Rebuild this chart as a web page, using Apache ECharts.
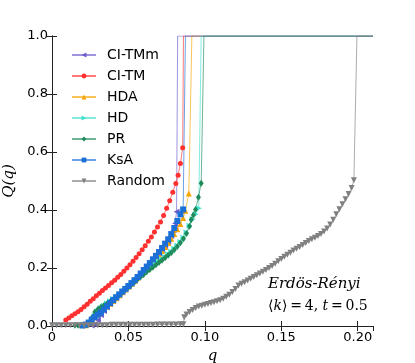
<!DOCTYPE html>
<html>
<head>
<meta charset="utf-8">
<script src="https://cdn.jsdelivr.net/npm/echarts@6/dist/echarts.min.js"></script>
<style>
  html, body { margin: 0; padding: 0; background: #fff; }
</style>
</head>
<body>
<div id="chart" style="width: 415px; height: 363px;"></div>
<script>
// 坐标轴刻度
var xTicks = [0, 0.05, 0.10, 0.15, 0.20];
var yTicks = [0, 0.2, 0.4, 0.6, 0.8, 1.0];

// 各曲线数据 [q, Q(q)]
var ciTMm = [
  [0.026, 0.002], [0.028, 0.005], [0.030, 0.020], [0.032, 0.038], [0.034, 0.052],
  [0.036, 0.064], [0.038, 0.075], [0.040, 0.086], [0.042, 0.096], [0.044, 0.106],
  [0.046, 0.116], [0.048, 0.126], [0.050, 0.136], [0.052, 0.146], [0.054, 0.156],
  [0.056, 0.167], [0.058, 0.178], [0.060, 0.189], [0.062, 0.200], [0.064, 0.212],
  [0.066, 0.224], [0.068, 0.237], [0.070, 0.250], [0.072, 0.263], [0.074, 0.276],
  [0.076, 0.290], [0.078, 0.310], [0.0795, 0.330], [0.0805, 0.354], [0.0815, 0.394],
  [0.0822, 1.0], [0.21, 1.0]
];
var ciTM = [
  [0.009, 0.021], [0.011, 0.028], [0.013, 0.035], [0.015, 0.042], [0.017, 0.049],
  [0.019, 0.057], [0.021, 0.066], [0.023, 0.075], [0.025, 0.085], [0.027, 0.094],
  [0.029, 0.104], [0.031, 0.113], [0.033, 0.122], [0.035, 0.131], [0.037, 0.140],
  [0.039, 0.149], [0.041, 0.158], [0.043, 0.168], [0.045, 0.178], [0.047, 0.189],
  [0.049, 0.200], [0.051, 0.211], [0.053, 0.223], [0.055, 0.236], [0.057, 0.249],
  [0.059, 0.263], [0.061, 0.277], [0.063, 0.292], [0.065, 0.307], [0.067, 0.324],
  [0.069, 0.341], [0.071, 0.359], [0.073, 0.381], [0.075, 0.406], [0.077, 0.432],
  [0.079, 0.461], [0.081, 0.491], [0.0825, 0.520], [0.084, 0.560], [0.0855, 0.615],
  [0.086, 1.0], [0.21, 1.0]
];
var hda = [
  [0.022, 0.003], [0.024, 0.010], [0.026, 0.019], [0.028, 0.030], [0.030, 0.040],
  [0.032, 0.050], [0.034, 0.059], [0.036, 0.068], [0.038, 0.077], [0.040, 0.086],
  [0.042, 0.096], [0.044, 0.106], [0.046, 0.116], [0.048, 0.126], [0.050, 0.136],
  [0.052, 0.146], [0.054, 0.156], [0.056, 0.166], [0.058, 0.177], [0.060, 0.188],
  [0.062, 0.199], [0.064, 0.210], [0.066, 0.222], [0.068, 0.234], [0.070, 0.246],
  [0.072, 0.259], [0.074, 0.272], [0.076, 0.286], [0.078, 0.301], [0.080, 0.317],
  [0.082, 0.334], [0.084, 0.352], [0.0858, 0.372], [0.0872, 0.397], [0.0895, 0.457],
  [0.0915, 1.0], [0.21, 1.0]
];
var hd = [
  [0.022, 0.002], [0.024, 0.005], [0.026, 0.018], [0.028, 0.035], [0.030, 0.050],
  [0.032, 0.062], [0.034, 0.070], [0.036, 0.078], [0.038, 0.085], [0.040, 0.093],
  [0.042, 0.101], [0.044, 0.109], [0.046, 0.118], [0.048, 0.127], [0.050, 0.136],
  [0.052, 0.145], [0.054, 0.154], [0.056, 0.163], [0.058, 0.172], [0.060, 0.180],
  [0.062, 0.189], [0.064, 0.198], [0.066, 0.206], [0.068, 0.214], [0.070, 0.222],
  [0.072, 0.230], [0.074, 0.238], [0.076, 0.247], [0.078, 0.256], [0.080, 0.266],
  [0.082, 0.277], [0.084, 0.290], [0.086, 0.304], [0.088, 0.322], [0.090, 0.346],
  [0.092, 0.368], [0.094, 0.385], [0.096, 0.406], [0.0976, 1.0], [0.21, 1.0]
];
var pr = [
  [0.015, 0.003], [0.017, 0.003], [0.019, 0.003], [0.021, 0.003], [0.023, 0.004],
  [0.025, 0.012], [0.026, 0.028], [0.028, 0.048], [0.030, 0.058], [0.032, 0.065],
  [0.034, 0.071], [0.036, 0.077], [0.038, 0.084], [0.040, 0.091], [0.042, 0.099],
  [0.044, 0.107], [0.046, 0.116], [0.048, 0.125], [0.050, 0.134], [0.052, 0.143],
  [0.054, 0.152], [0.056, 0.161], [0.058, 0.170], [0.060, 0.178], [0.062, 0.187],
  [0.064, 0.195], [0.066, 0.203], [0.068, 0.211], [0.070, 0.219], [0.072, 0.227],
  [0.074, 0.235], [0.076, 0.244], [0.078, 0.253], [0.080, 0.263], [0.082, 0.274],
  [0.084, 0.287], [0.086, 0.301], [0.088, 0.319], [0.090, 0.344], [0.0911, 0.366],
  [0.0925, 0.383], [0.0939, 0.402], [0.0958, 0.444], [0.0976, 0.492], [0.0994, 1.0],
  [0.21, 1.0]
];
var ksa = [
  [0.020, 0.002], [0.022, 0.005], [0.024, 0.012], [0.026, 0.022], [0.028, 0.031],
  [0.030, 0.039], [0.032, 0.047], [0.034, 0.057], [0.036, 0.068], [0.038, 0.079],
  [0.040, 0.089], [0.042, 0.099], [0.044, 0.109], [0.046, 0.119], [0.048, 0.128],
  [0.050, 0.138], [0.052, 0.148], [0.054, 0.158], [0.056, 0.169], [0.058, 0.181],
  [0.060, 0.193], [0.062, 0.205], [0.064, 0.217], [0.066, 0.230], [0.068, 0.242],
  [0.070, 0.255], [0.072, 0.269], [0.074, 0.284], [0.076, 0.299], [0.078, 0.317],
  [0.080, 0.338], [0.082, 0.362], [0.084, 0.385], [0.0858, 0.402], [0.0873, 1.0],
  [0.21, 1.0]
];
var random = [
  [0.000, 0.003], [0.003, 0.003], [0.006, 0.003], [0.009, 0.003], [0.012, 0.003],
  [0.015, 0.003], [0.018, 0.003], [0.021, 0.003], [0.024, 0.003], [0.027, 0.003],
  [0.030, 0.003], [0.033, 0.003], [0.036, 0.003], [0.039, 0.004], [0.042, 0.004],
  [0.045, 0.004], [0.048, 0.004], [0.051, 0.004], [0.054, 0.004], [0.057, 0.004],
  [0.060, 0.004], [0.063, 0.004], [0.066, 0.004], [0.069, 0.005], [0.072, 0.005],
  [0.075, 0.005], [0.078, 0.005], [0.081, 0.005], [0.084, 0.006], [0.086, 0.006],
  [0.0865, 0.030], [0.088, 0.040], [0.090, 0.048], [0.092, 0.055], [0.094, 0.062],
  [0.096, 0.067], [0.098, 0.070], [0.100, 0.073], [0.102, 0.076], [0.104, 0.079],
  [0.106, 0.082], [0.108, 0.085], [0.110, 0.089], [0.112, 0.094], [0.114, 0.101],
  [0.116, 0.108], [0.118, 0.117], [0.120, 0.128], [0.122, 0.140], [0.124, 0.146],
  [0.126, 0.151], [0.128, 0.157], [0.130, 0.163], [0.132, 0.169], [0.134, 0.175],
  [0.136, 0.181], [0.138, 0.187], [0.140, 0.193], [0.142, 0.200], [0.144, 0.207],
  [0.146, 0.215], [0.148, 0.223], [0.150, 0.231], [0.152, 0.239], [0.154, 0.246],
  [0.156, 0.253], [0.158, 0.260], [0.160, 0.266], [0.162, 0.272], [0.164, 0.279],
  [0.166, 0.286], [0.168, 0.293], [0.170, 0.299], [0.172, 0.304], [0.174, 0.310],
  [0.176, 0.317], [0.178, 0.326], [0.180, 0.336], [0.182, 0.350], [0.184, 0.366],
  [0.186, 0.385], [0.188, 0.403], [0.190, 0.420], [0.192, 0.437], [0.194, 0.455],
  [0.196, 0.476], [0.1975, 0.503], [0.1995, 1.0], [0.21, 1.0]
];

var seriesNames = ['CI-TMm', 'CI-TM', 'HDA', 'HD', 'PR', 'KsA', 'Random'];
var seriesData = [ciTMm, ciTM, hda, hd, pr, ksa, random];
var seriesColors = ['#6a5acd', '#ff3030', '#f5a500', '#40e0d0', '#1f8a5a', '#1c6fd6', '#808080'];
var seriesSymbols = ['triangle', 'circle', 'triangle', 'triangle', 'diamond', 'rect', 'triangle'];
var symbolRotates = [90, 0, 0, -90, 0, 0, 180];
var symbolSizes = [6, 5, 6, 6, [5, 7], 6, 6];

var chart = echarts.init(document.getElementById('chart'));

var tickFont = { fontFamily: 'DejaVu Sans', fontSize: 13, color: '#000' };

function makeSeries(i) {
  // Q = 1 的点（顶端平台）不画标记
  var data = seriesData[i].map(function (p) {
    return p[1] >= 1 ? { value: p, symbol: 'none' } : p;
  });
  return {
    name: seriesNames[i],
    type: 'line',
    data: data,
    xAxisIndex: 0,
    yAxisIndex: 0,
    symbol: seriesSymbols[i],
    symbolRotate: symbolRotates[i],
    symbolSize: symbolSizes[i],
    showAllSymbol: true,
    animation: false,
    itemStyle: { color: seriesColors[i] },
    lineStyle: { color: seriesColors[i], width: 1, opacity: 0.65 }
  };
}

var option = {
  backgroundColor: '#fff',
  animation: false,
  grid: { left: 52, top: 36, right: 42, bottom: 37, outerBoundsMode: 'none', containLabel: false },
  legend: {
    orient: 'vertical',
    left: 66,
    top: 43,
    itemWidth: 24,
    itemHeight: 6,
    itemGap: 7,
    textStyle: { fontFamily: 'DejaVu Sans', fontSize: 14, color: '#000', padding: [0, 0, 0, 6] },
    data: seriesNames
  },
  xAxis: [
    {
      type: 'value', min: 0, max: 0.21, interval: 0.05, position: 'bottom',
      name: 'q', nameLocation: 'middle', nameGap: 19,
      nameTextStyle: { fontFamily: 'DejaVu Serif', fontStyle: 'italic', fontSize: 15, color: '#000' },
      axisLine: { show: true, lineStyle: { color: '#222', width: 1 } },
      axisTick: { show: true, inside: true, length: 5, lineStyle: { color: '#222' } },
      axisLabel: Object.assign({
        margin: 5, showMaxLabel: false,
        formatter: function (v) { return v === 0 ? '0' : v.toFixed(2); }
      }, tickFont),
      splitLine: { show: false }
    },
    {
      type: 'value', min: 0, max: 0.21, interval: 0.05, position: 'top',
      axisLine: { show: true, lineStyle: { color: '#222', width: 1 } },
      axisTick: { show: true, inside: true, length: 5, lineStyle: { color: '#222' } },
      axisLabel: { show: false },
      splitLine: { show: false }
    }
  ],
  yAxis: [
    {
      type: 'value', min: 0, max: 1, interval: 0.2, position: 'left',
      name: 'Q(q)', nameLocation: 'middle', nameGap: 26,
      nameTextStyle: { fontFamily: 'DejaVu Serif', fontStyle: 'italic', fontSize: 15, color: '#000' },
      axisLine: { show: true, lineStyle: { color: '#222', width: 1 } },
      axisTick: { show: true, inside: true, length: 5, lineStyle: { color: '#222' } },
      axisLabel: Object.assign({
        margin: 4,
        formatter: function (v) { return v.toFixed(1); }
      }, tickFont),
      splitLine: { show: false }
    },
    {
      type: 'value', min: 0, max: 1, interval: 0.2, position: 'right',
      axisLine: { show: true, lineStyle: { color: '#222', width: 1 } },
      axisTick: { show: true, inside: true, length: 5, lineStyle: { color: '#222' } },
      axisLabel: { show: false },
      splitLine: { show: false }
    }
  ],
  graphic: [
    {
      type: 'text', left: 268, top: 277,
      style: {
        text: 'Erdös-Rényi',
        font: 'italic 15px "DejaVu Serif"',
        fill: '#000'
      }
    },
    {
      type: 'text', left: 268, top: 299,
      style: {
        text: '⟨{i|k}⟩\u2009=\u20094, {i|t}\u2009=\u20090.5',
        font: '14px "DejaVu Serif"',
        fill: '#000',
        rich: { i: { fontFamily: 'DejaVu Serif', fontStyle: 'italic', fontSize: 14 } }
      }
    }
  ],
  series: seriesNames.map(function (n, i) { return makeSeries(i); })
};

chart.setOption(option);
</script>
</body>
</html>
